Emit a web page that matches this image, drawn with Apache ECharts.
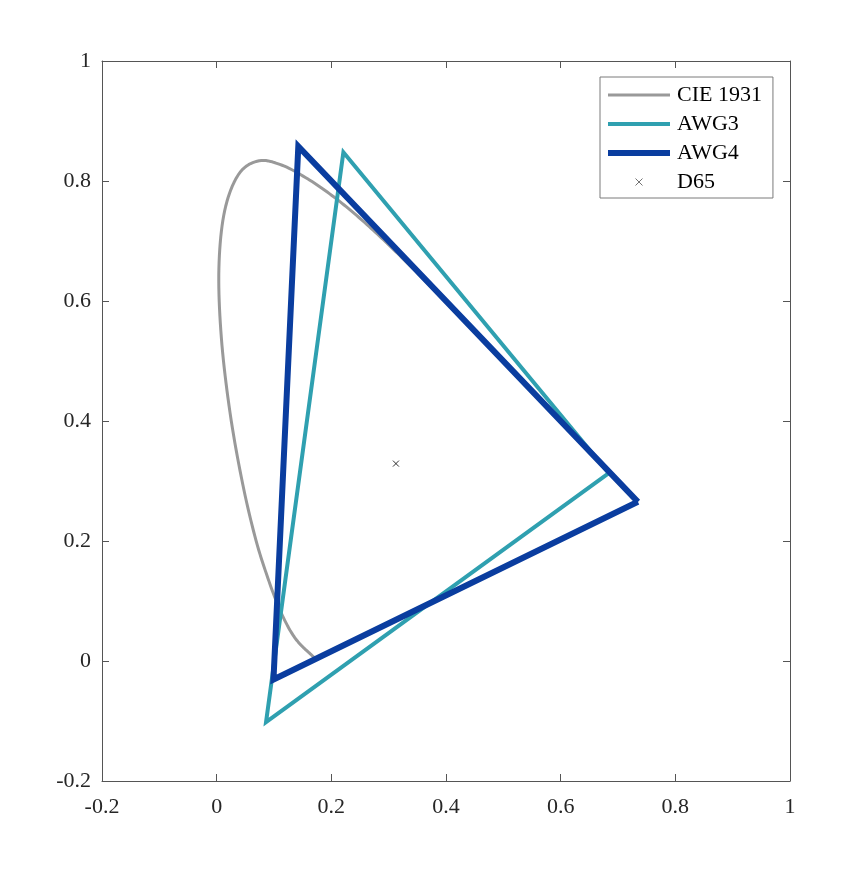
<!DOCTYPE html>
<html>
<head>
<meta charset="utf-8">
<script src="https://cdn.jsdelivr.net/npm/echarts@6/dist/echarts.min.js"></script>
<style>
html,body{margin:0;padding:0;background:#fff;}
#chart{width:847px;height:878px;}
</style>
</head>
<body>
<div id="chart"></div>
<script>
// CIE 1931 2° spectral locus (x, y), 380–700 nm in 5 nm steps
const cieX = [0.1741,0.1740,0.1738,0.1736,0.1733,0.1730,0.1726,0.1721,0.1714,0.1703,0.1689,0.1669,0.1644,0.1611,0.1566,0.1510,0.1440,0.1355,0.1241,0.1096,0.0913,0.0687,0.0454,0.0235,0.0082,0.0039,0.0139,0.0389,0.0743,0.1142,0.1547,0.1929,0.2296,0.2658,0.3016,0.3373,0.3731,0.4087,0.4441,0.4788,0.5125,0.5448,0.5752,0.6029,0.6270,0.6482,0.6658,0.6801,0.6915,0.7006,0.7079,0.7140,0.7190,0.7230,0.7260,0.7283,0.7300,0.7311,0.7320,0.7327,0.7334,0.7340,0.7344,0.7346,0.7347];
const cieY = [0.0050,0.0050,0.0049,0.0049,0.0048,0.0048,0.0048,0.0048,0.0051,0.0058,0.0069,0.0086,0.0109,0.0138,0.0177,0.0227,0.0297,0.0399,0.0578,0.0868,0.1327,0.2007,0.2950,0.4127,0.5384,0.6548,0.7502,0.8120,0.8338,0.8262,0.8059,0.7816,0.7543,0.7243,0.6923,0.6589,0.6245,0.5896,0.5547,0.5202,0.4866,0.4544,0.4242,0.3965,0.3725,0.3514,0.3340,0.3197,0.3083,0.2993,0.2920,0.2859,0.2809,0.2770,0.2740,0.2717,0.2700,0.2689,0.2680,0.2673,0.2666,0.2660,0.2656,0.2654,0.2653];
// Gamut primaries R, G, B (closed back to R)
const awg3X = [0.6840, 0.2210, 0.0861, 0.6840];
const awg3Y = [0.3130, 0.8480, -0.1020, 0.3130];
const awg4X = [0.7347, 0.1424, 0.0991, 0.7347];
const awg4Y = [0.2653, 0.8576, -0.0308, 0.2653];
const d65 = [0.3127, 0.3290];
const seriesNames = ['CIE 1931', 'AWG3', 'AWG4', 'D65'];
const ticks = [-0.2, 0, 0.2, 0.4, 0.6, 0.8, 1];

const zip = (a, b) => a.map((v, i) => [v, b[i]]);
const font = 'Liberation Serif';
const axisCol = '#555555';
const colCIE = '#999999', colA3 = '#2fa0b0', colA4 = '#0a3d9f';
function axis(pos, labels) {
  return {
    type: 'value', position: pos, min: ticks[0], max: ticks[ticks.length - 1], interval: 0.2,
    axisLine: { show: true, onZero: false, lineStyle: { color: axisCol, width: 1 } },
    axisTick: { show: true, inside: true, length: 7, lineStyle: { color: axisCol, width: 1 } },
    axisLabel: { show: labels, margin: pos === 'bottom' ? 15 : 11, color: '#262626', fontFamily: font, fontSize: 22 },
    splitLine: { show: false }
  };
}
// Smooth curve through the locus points (Catmull-Rom rendered in pixel space via api.coord)
function renderLocus(params, api) {
  if (params.dataIndex !== 0) return null;
  const pts = cieX.map((x, i) => api.coord([x, cieY[i]]));
  const n = pts.length, out = [], steps = 10;
  for (let i = 0; i < n - 1; i++) {
    const p0 = pts[Math.max(i - 1, 0)], p1 = pts[i], p2 = pts[i + 1], p3 = pts[Math.min(i + 2, n - 1)];
    const c1 = [p1[0] + (p2[0] - p0[0]) / 6, p1[1] + (p2[1] - p0[1]) / 6];
    const c2 = [p2[0] - (p3[0] - p1[0]) / 6, p2[1] - (p3[1] - p1[1]) / 6];
    for (let k = 0; k < steps; k++) {
      const t = k / steps, u = 1 - t;
      const a = u * u * u, b = 3 * u * u * t, c = 3 * u * t * t, d = t * t * t;
      out.push([a * p1[0] + b * c1[0] + c * c2[0] + d * p2[0], a * p1[1] + b * c1[1] + c * c2[1] + d * p2[1]]);
    }
  }
  out.push(pts[n - 1]);
  return { type: 'polyline', shape: { points: out },
    style: { stroke: colCIE, lineWidth: 3, fill: null, lineJoin: 'round', lineCap: 'butt' } };
}
const hideSym = { color: 'transparent', opacity: 0 };
const chart = echarts.init(document.getElementById('chart'), null, { renderer: 'canvas' });
chart.setOption({
  animation: false,
  backgroundColor: '#fff',
  grid: { left: 102, right: 57, top: 61, bottom: 97, containLabel: false },
  xAxis: [axis('bottom', true), axis('top', false)],
  yAxis: [axis('left', true), axis('right', false)],
  legend: {
    orient: 'vertical', left: 600, top: 77,
    data: [
      { name: seriesNames[0], icon: 'path://M0,0H62V3H0Z', itemStyle: { color: colCIE } },
      { name: seriesNames[1], lineStyle: { width: 4, color: colA3 }, itemStyle: hideSym },
      { name: seriesNames[2], lineStyle: { width: 6, color: colA4 }, itemStyle: hideSym },
      { name: seriesNames[3], itemStyle: { color: 'none', borderColor: '#222', borderWidth: 0.8 } }
    ],
    itemWidth: 62, itemHeight: 7, itemGap: 7,
    padding: [7, 11, 5, 5],
    borderColor: '#7a7a7a', borderWidth: 1, backgroundColor: '#fff',
    textStyle: { fontFamily: font, fontSize: 22, color: '#000', padding: [0, 0, 0, 2], lineHeight: 21 },
    selectedMode: false
  },
  series: [
    { name: seriesNames[0], type: 'custom', data: zip(cieX, cieY), encode: { x: 0, y: 1 },
      renderItem: renderLocus, itemStyle: { color: colCIE }, silent: true },
    { name: seriesNames[1], type: 'line', data: zip(awg3X, awg3Y), symbol: 'none',
      lineStyle: { color: colA3, width: 4, join: 'miter' }, itemStyle: { color: colA3 } },
    { name: seriesNames[2], type: 'line', data: zip(awg4X, awg4Y), symbol: 'none',
      lineStyle: { color: colA4, width: 6, join: 'miter' }, itemStyle: { color: colA4 } },
    { name: seriesNames[3], type: 'scatter', data: [d65], symbol: 'path://M0,0L10,10M10,0L0,10', symbolSize: 6,
      itemStyle: { color: 'none', borderColor: '#000', borderWidth: 1 } }
  ]
});
</script>
</body>
</html>
